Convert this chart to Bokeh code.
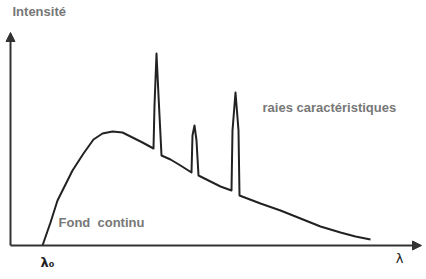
from bokeh.plotting import figure
from bokeh.models import Range1d, Arrow, NormalHead
from bokeh.core.properties import value
from bokeh.embed import file_html
from bokeh.resources import INLINE

# Spectrum (arbitrary units): wavelength and intensity
lam = [32, 40, 47, 55, 62, 73, 83, 92, 102, 112, 122, 132, 143,
       144, 146, 148, 151,
       160, 170, 181,
       182, 184, 186, 188,
       200, 210, 221,
       222, 225, 228, 229,
       250, 270, 290, 310, 330, 345, 360]
intensity = [0, 23, 45, 61, 75, 92, 106, 112, 114, 113, 108, 103, 97,
             140, 192, 150, 90,
             86, 80, 73,
             110, 120, 105, 70,
             64, 59, 55,
             115, 153, 115, 50,
             42, 35, 27, 19, 13, 9, 6]

axis_x_end = 411
axis_y_end = 213

label_y = "Intensité"
label_x = "λ"
label_lam0 = "λ₀"
label_lines = "raies caractéristiques"
label_bg = "Fond\u00a0\u00a0continu"

p = figure(width=426, height=279, output_backend="svg", toolbar_location=None,
           x_range=Range1d(-10, 416), y_range=Range1d(-34, 245),
           min_border=0, min_border_left=0, min_border_right=0,
           min_border_top=0, min_border_bottom=0)
p.axis.visible = False
p.grid.visible = False
p.outline_line_color = None
p.background_fill_color = "white"
p.border_fill_color = "white"

axis_color = "#333333"
p.add_layout(Arrow(end=NormalHead(size=9, fill_color=axis_color, line_color=axis_color),
                   x_start=0, y_start=0, x_end=0, y_end=axis_y_end,
                   line_color=axis_color, line_width=2))
p.add_layout(Arrow(end=NormalHead(size=9, fill_color=axis_color, line_color=axis_color),
                   x_start=0, y_start=0, x_end=axis_x_end, y_end=0,
                   line_color=axis_color, line_width=2))

p.line(lam, intensity, line_color="#222222", line_width=2, line_join="round")

font = value("Liberation Sans")
p.text(x=[2], y=[234], text=[label_y], text_font=font, text_font_style="bold",
       text_font_size="13px", text_color="#777777", text_baseline="middle", text_align="left")
p.text(x=[252], y=[138], text=[label_lines], text_font=font, text_font_style="bold",
       text_font_size="13px", text_color="#777777", text_baseline="middle", text_align="left")
p.text(x=[48], y=[23], text=[label_bg], text_font=font, text_font_style="bold",
       text_font_size="13px", text_color="#777777", text_baseline="middle", text_align="left")
p.text(x=[389], y=[-13], text=[label_x], text_font=value("DejaVu Sans"),
       text_font_size="13px", text_color="#222222", text_baseline="middle", text_align="center")
p.text(x=[37], y=[-17], text=[label_lam0], text_font=value("DejaVu Sans"),
       text_font_size="13px", text_font_style="bold", text_color="#222222",
       text_baseline="middle", text_align="center")

open("out.html", "w").write(file_html(p, INLINE))
